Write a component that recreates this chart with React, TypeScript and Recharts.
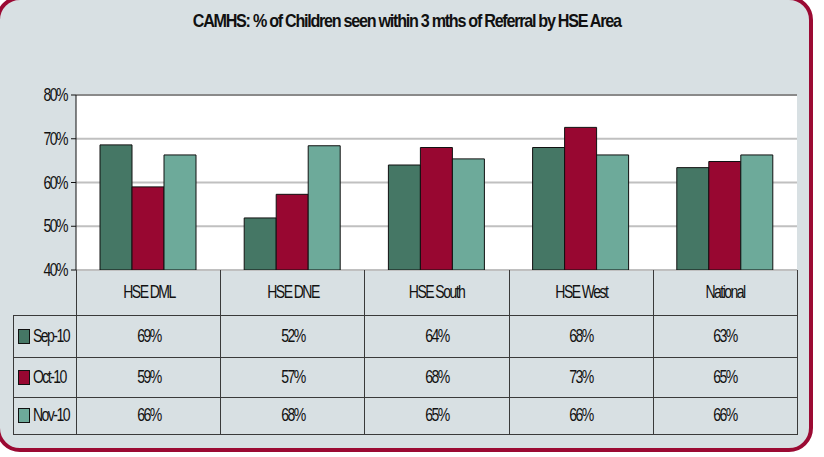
import { BarChart, Bar, XAxis, YAxis, CartesianGrid, ReferenceLine } from 'recharts'

const areas = ['HSE DML', 'HSE DNE', 'HSE South', 'HSE West', 'National']
const sep10 = [68.6, 51.9, 64.0, 68.0, 63.4]
const oct10 = [59.0, 57.3, 68.0, 72.6, 64.8]
const nov10 = [66.3, 68.4, 65.4, 66.3, 66.3]
const yTicks = [40, 50, 60, 70, 80]

const SERIES = [
  { key: 'sep', name: 'Sep-10', values: sep10, color: '#457765' },
  { key: 'oct', name: 'Oct-10', values: oct10, color: '#980731' },
  { key: 'nov', name: 'Nov-10', values: nov10, color: '#6daa9a' },
]

const data = areas.map((area, i) => ({ area, sep: sep10[i], oct: oct10[i], nov: nov10[i] }))

const FONT = "'Liberation Sans', Arial, sans-serif"
// the original text is a very tight, condensed Arial
const SQUEEZE = 0.78
const TIGHT = '-2px'

function Squeezed({ children }: { children: React.ReactNode }) {
  return (
    <span
      style={{
        display: 'inline-block',
        transform: `scaleX(${SQUEEZE})`,
        letterSpacing: TIGHT,
        whiteSpace: 'nowrap',
      }}
    >
      {children}
    </span>
  )
}

function YTick({ x, y, payload }: any) {
  return (
    <text
      transform={`translate(${x},${y}) scale(${SQUEEZE},1)`}
      textAnchor="end"
      dy={6}
      fontSize={18}
      fontFamily={FONT}
      fill="#111"
      style={{ letterSpacing: TIGHT }}
    >
      {payload.value}%
    </text>
  )
}

const line = '1px solid #3a3a3a'

function DataTable() {
  const colW = 721 / areas.length
  return (
    <table
      style={{
        position: 'absolute',
        left: 13,
        top: 270,
        borderCollapse: 'collapse',
        tableLayout: 'fixed',
        width: 63 + 721,
        fontFamily: FONT,
        fontSize: 18,
        color: '#111',
      }}
    >
      <colgroup>
        <col style={{ width: 63 }} />
        {areas.map((a) => (
          <col key={a} style={{ width: colW }} />
        ))}
      </colgroup>
      <tbody>
        <tr style={{ height: 45 }}>
          <td style={{ padding: 0 }} />
          {areas.map((a) => (
            <td key={a} style={{ border: line, borderTop: 'none', textAlign: 'center', padding: 0 }}>
              <Squeezed>{a}</Squeezed>
            </td>
          ))}
        </tr>
        {SERIES.map((s, r) => (
          <tr key={s.key} style={{ height: [42, 40, 37][r] }}>
            <td style={{ border: line, padding: 0, whiteSpace: 'nowrap' }}>
              <span
                style={{
                  display: 'inline-block',
                  width: 10,
                  height: 13,
                  background: s.color,
                  border: '1px solid #111',
                  verticalAlign: 'middle',
                  marginLeft: 4,
                }}
              />
              <span
                style={{
                  display: 'inline-block',
                  transform: `scaleX(${SQUEEZE})`,
                  transformOrigin: 'left center',
                  letterSpacing: TIGHT,
                  verticalAlign: 'middle',
                  marginLeft: 3,
                }}
              >
                {s.name}
              </span>
            </td>
            {s.values.map((v, i) => (
              <td key={i} style={{ border: line, textAlign: 'center', padding: 0 }}>
                <Squeezed>{Math.round(v)}%</Squeezed>
              </td>
            ))}
          </tr>
        ))}
      </tbody>
    </table>
  )
}

export default function App() {
  return (
    <div style={{ position: 'fixed', left: 0, top: 0, width: 824, height: 457, overflow: 'hidden', background: '#fff' }}>
      <div
        style={{
          position: 'absolute',
          left: -4,
          top: -4,
          width: 817,
          height: 456,
          boxSizing: 'border-box',
          border: '4px solid #9b0a33',
          borderRadius: 24,
          background: '#d8e0e3',
        }}
      />
      <div
        style={{
          position: 'absolute',
          left: 0,
          top: 9,
          width: 813,
          textAlign: 'center',
          fontFamily: FONT,
          fontWeight: 'bold',
          fontSize: 19,
          lineHeight: '24px',
          color: '#111',
        }}
      >
        <span
          style={{
            display: 'inline-block',
            transform: 'scaleX(0.85)',
            letterSpacing: '-1.5px',
            whiteSpace: 'nowrap',
          }}
        >
          CAMHS: % of Children seen within 3 mths of Referral by HSE Area
        </span>
      </div>
      <div style={{ position: 'absolute', left: 0, top: 0 }}>
        <BarChart
          width={824}
          height={457}
          data={data}
          margin={{ top: 95, right: 27, left: 16, bottom: 187 }}
          barCategoryGap={24}
          barGap={0}
        >
          <CartesianGrid vertical={false} stroke="#c0c0c0" strokeWidth={2} fill="#ffffff" />
          <XAxis dataKey="area" height={0} tick={false} tickLine={false} axisLine={{ stroke: '#111' }} />
          <YAxis
            width={60}
            domain={[40, 80]}
            ticks={yTicks}
            allowDataOverflow
            tick={<YTick />}
            tickSize={5}
            tickMargin={4}
            axisLine={{ stroke: '#111' }}
            tickLine={{ stroke: '#111' }}
          />
          <YAxis
            yAxisId="r"
            orientation="right"
            width={0}
            domain={[40, 80]}
            tick={false}
            tickLine={false}
            axisLine={{ stroke: '#999' }}
          />
          <ReferenceLine y={80} stroke="#8a8a8a" strokeWidth={2} />
          {SERIES.map((s) => (
            <Bar key={s.key} dataKey={s.key} name={s.name} fill={s.color} stroke="#111" strokeWidth={1} isAnimationActive={false} />
          ))}
        </BarChart>
      </div>
      <DataTable />
    </div>
  )
}
